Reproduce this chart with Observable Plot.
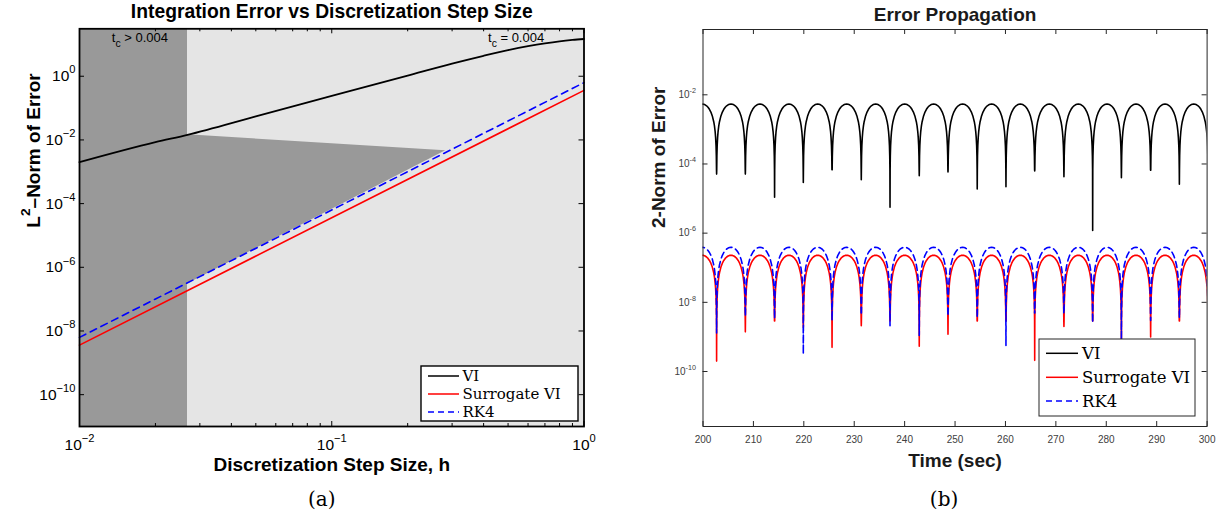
<!DOCTYPE html>
<html>
<head>
<meta charset="utf-8">
<script src="https://cdn.jsdelivr.net/npm/d3@7"></script>
<script src="https://cdn.jsdelivr.net/npm/@observablehq/plot@0.6"></script>
<style>
  body { margin: 0; background: #fff; }
  #wrap { position: relative; width: 1221px; height: 518px; overflow: hidden; background: #fff; }
  #left, #right { position: absolute; top: 0; }
  #left { left: 0; }
  #right { left: 610px; }
  .overlay { position: absolute; top: 0; pointer-events: none; }
</style>
</head>
<body>
<div id="wrap">
  <div id="left"></div>
  <div id="right"></div>
</div>
<script>
// ===================== DATA: panel (a) =====================
const titleA = "Integration Error vs Discretization Step Size";
const xLabelA = "Discretization Step Size, h";
const yLabelA = "L^{2}–Norm of Error";
const captionA = "(a)";
const stepH = [0.01, 0.02, 0.0268, 0.05, 0.1, 0.2, 0.3, 0.4, 0.5, 0.6, 0.7, 0.8, 0.9, 1.0];
const errVI = [0.002, 0.0085, 0.0145, 0.055, 0.24, 1.05, 2.5, 4.4, 6.6, 8.8, 10.8, 12.5, 13.8, 14.8];
const stepHSurrogate = [0.01, 1.0];
const errSurrogate = [3.6e-9, 0.36];
const stepHRK4 = [0.01, 1.0];
const errRK4 = [6.3e-9, 0.63];
const tcBoundaryH = 0.0268;           // edge of the dark "t_c > 0.004" band
const shadeH = [0.0268, 0.283];       // dark wedge
const shadeLow = [3.0e-7, 4.6e-3];
const shadeHigh = [0.0145, 4.6e-3];
const annotA = ["t_{c} > 0.004", "t_{c} = 0.004"];
const xTicksA = [0.01, 0.1, 1];
const xMinorA = [0.02, 0.03, 0.04, 0.05, 0.06, 0.07, 0.08, 0.09, 0.2, 0.3, 0.4, 0.5, 0.6, 0.7, 0.8, 0.9];
const yTicksA = [1, 1e-2, 1e-4, 1e-6, 1e-8, 1e-10];
const legendNames = ["VI", "Surrogate VI", "RK4"];

// ===================== DATA: panel (b) =====================
const titleB = "Error Propagation";
const xLabelB = "Time (sec)";
const yLabelB = "2-Norm of Error";
const captionB = "(b)";
// times of the zero crossings (dips), incl. one just outside each end of the axis
const dipTimes = [197.0, 202.7, 208.4, 214.2, 219.9, 225.6, 231.4, 237.1, 242.9, 248.6,
                  254.4, 260.1, 265.8, 271.6, 277.3, 283.0, 288.8, 294.5, 300.2];
const peakVI = 5.4e-3, peakSurrogate = 2.3e-7, peakRK4 = 3.9e-7;
const dipVI = [5e-5, 5.1e-5, 5.1e-5, 1.1e-5, 2.9e-5, 6.9e-5, 3.5e-5, 5.6e-6, 4.6e-5, 5.9e-5,
               1.9e-5, 2.2e-5, 6.3e-5, 4.3e-5, 1.2e-6, 4.0e-5, 6.6e-5, 2.6e-5, 5e-5];
const dipSurrogate = [3e-9, 2.0e-10, 1.4e-9, 3e-9, 1.9e-9, 5e-10, 2.1e-9, 4.7e-9, 5.4e-10, 1.2e-9,
                      3e-9, 3.6e-9, 2.1e-10, 2e-9, 3e-9, 3e-10, 1e-9, 3e-9, 3e-9];
const dipRK4 = [4e-9, 1.3e-9, 4e-9, 3.4e-9, 3.2e-10, 3e-9, 5.7e-9, 2.1e-9, 1.1e-9, 4e-9,
                3.6e-9, 5.6e-10, 5.7e-9, 4.7e-9, 2.6e-9, 8e-10, 3e-9, 3.5e-9, 4e-9];
// shape of one arch between two dips (fraction of the interval -> share of the peak)
const archFrac  = [0.004, 0.01, 0.02, 0.035, 0.05, 0.075, 0.1, 0.15, 0.2, 0.25, 0.3, 0.35, 0.4, 0.45, 0.5,
                   0.55, 0.6, 0.65, 0.7, 0.75, 0.8, 0.85, 0.9, 0.925, 0.95, 0.965, 0.98, 0.99, 0.996];
const archRatio = [0.0126, 0.0314, 0.0628, 0.109, 0.156, 0.233, 0.309, 0.454, 0.588, 0.707, 0.809, 0.891, 0.951, 0.988, 1,
                   0.988, 0.951, 0.891, 0.809, 0.707, 0.588, 0.454, 0.309, 0.233, 0.156, 0.109, 0.0628, 0.0314, 0.0126];
const xTicksB = [200, 210, 220, 230, 240, 250, 260, 270, 280, 290, 300];
const yTicksB = [1e-2, 1e-4, 1e-6, 1e-8, 1e-10];

// ===================== helpers =====================
const SVGNS = "http://www.w3.org/2000/svg";
function expLabel(v, minus) {
  const e = Math.round(Math.log10(v));
  return "10^{" + (e < 0 ? minus + Math.abs(e) : String(e)) + "}";
}
// turn ^{..} / _{..} markup into real superscript / subscript tspans
function richText(svg) {
  svg.querySelectorAll("text").forEach(t => {
    const s = t.textContent;
    if (!/[\^_]\{/.test(s)) return;
    const fs = parseFloat(getComputedStyle(t).fontSize) || 10;
    const parts = s.split(/(\^\{[^}]*\}|_\{[^}]*\})/).filter(p => p !== "");
    t.textContent = "";
    let offset = 0;
    parts.forEach(p => {
      const ts = document.createElementNS(SVGNS, "tspan");
      let target = 0, txt = p;
      if (p.startsWith("^{")) { target = -0.5 * fs; txt = p.slice(2, -1); ts.setAttribute("font-size", (0.72 * fs).toFixed(2)); }
      else if (p.startsWith("_{")) { target = 0.38 * fs; txt = p.slice(2, -1); ts.setAttribute("font-size", (0.8 * fs).toFixed(2)); }
      const d = target - offset;
      if (d !== 0) ts.setAttribute("dy", d.toFixed(2));
      offset = target;
      ts.textContent = txt;
      t.appendChild(ts);
    });
  });
}
function pts(xs, ys) { return xs.map((x, i) => ({x, y: ys[i]})); }
function oscillation(peak, minima) {
  const out = [];
  for (let k = 0; k < dipTimes.length; k++) {
    out.push({x: dipTimes[k], y: minima[k]});
    if (k + 1 < dipTimes.length) {
      const t0 = dipTimes[k], t1 = dipTimes[k + 1];
      archFrac.forEach((f, j) => out.push({x: t0 + f * (t1 - t0), y: peak * archRatio[j]}));
    }
  }
  return out;
}
// legend: one white box, line samples and labels
function legend(container, W, H, box, sampleX, textX, rowsY, fontSize, stroke, strokeWidth) {
  const lg = d3.select(container).append("svg").attr("class", "overlay")
    .attr("width", W).attr("height", H).style("left", "0px");
  lg.append("rect").attr("x", box.x).attr("y", box.y).attr("width", box.w).attr("height", box.h)
    .attr("fill", "white").attr("stroke", stroke).attr("stroke-width", strokeWidth);
  const styles = [{c: "black", d: null}, {c: "#ff0000", d: null}, {c: "#0000ff", d: "6,4"}];
  legendNames.forEach((n, i) => {
    lg.append("line").attr("x1", sampleX[0]).attr("x2", sampleX[1]).attr("y1", rowsY[i]).attr("y2", rowsY[i])
      .attr("stroke", styles[i].c).attr("stroke-width", 1.5).attr("stroke-dasharray", styles[i].d);
    lg.append("text").attr("font-family", "'DejaVu Serif', serif").attr("font-size", fontSize).attr("fill", "black")
      .attr("x", textX).attr("y", rowsY[i] + 0.36 * fontSize).text(n);
  });
}

// ===================== panel (a) =====================
{
  const W = 610, H = 518;
  const m = {top: 28.3, right: 26.5, bottom: 92, left: 79};
  const iw = W - m.left - m.right, ih = H - m.top - m.bottom;
  const yTop = 10 ** 1.49, yBot = 1e-11;
  const font = "'Liberation Sans', Arial, Helvetica, sans-serif";
  const plot = Plot.plot({
    width: W, height: H,
    marginTop: m.top, marginRight: m.right, marginBottom: m.bottom, marginLeft: m.left,
    style: {fontFamily: font, background: "transparent", color: "black", overflow: "visible"},
    x: {type: "log", domain: [0.01, 1], label: null},
    y: {type: "log", domain: [yBot, yTop], label: null},
    marks: [
      Plot.frame({fill: "#e5e5e5", stroke: null}),
      Plot.rect([{a: 0.01, b: tcBoundaryH}], {x1: "a", x2: "b", y1: () => yBot, y2: () => yTop, fill: "#999999"}),
      Plot.areaY(shadeH.map((h, i) => ({h, lo: shadeLow[i], hi: shadeHigh[i]})), {x: "h", y1: "lo", y2: "hi", fill: "#999999"}),
      Plot.line(pts(stepH, errVI), {x: "x", y: "y", stroke: "black", strokeWidth: 1.8, curve: "monotone-x"}),
      Plot.line(pts(stepHSurrogate, errSurrogate), {x: "x", y: "y", stroke: "#ff0000", strokeWidth: 1.6}),
      Plot.line(pts(stepHRK4, errRK4), {x: "x", y: "y", stroke: "#0000ff", strokeWidth: 1.6, strokeDasharray: "7,5"}),
      Plot.text([annotA[0]], {text: d => d, frameAnchor: "top-left", dx: 32.3, dy: 13.4, lineAnchor: "bottom", textAnchor: "start", fontSize: 13, fontFamily: font, fill: "black"}),
      Plot.text([annotA[1]], {text: d => d, frameAnchor: "top-left", dx: 408.5, dy: 13.4, lineAnchor: "bottom", textAnchor: "start", fontSize: 13, fontFamily: font, fill: "black"}),
      // inward ticks on all four sides
      Plot.tickX(xTicksA, {x: d => d, insetTop: ih - 5, stroke: "black"}),
      Plot.tickX(xTicksA, {x: d => d, insetBottom: ih - 5, stroke: "black"}),
      Plot.tickX(xMinorA, {x: d => d, insetTop: ih - 3, stroke: "black"}),
      Plot.tickX(xMinorA, {x: d => d, insetBottom: ih - 3, stroke: "black"}),
      Plot.tickY(yTicksA, {y: d => d, insetRight: iw - 5, stroke: "black"}),
      Plot.tickY(yTicksA, {y: d => d, insetLeft: iw - 5, stroke: "black"}),
      Plot.axisX({ticks: xTicksA, tickSize: 0, tickPadding: 12, fontSize: 15.5, label: null, tickFormat: v => expLabel(v, "−")}),
      Plot.axisY({ticks: yTicksA, tickSize: 0, tickPadding: 4, fontSize: 15.5, label: null, tickFormat: v => expLabel(v, "−")}),
      Plot.frame({stroke: "black", strokeWidth: 1.8}),
      Plot.text([titleA], {text: d => d, frameAnchor: "top", dy: -10.6, lineAnchor: "bottom", fontSize: 19.3, fontWeight: "bold"}),
      Plot.text([xLabelA], {text: d => d, frameAnchor: "bottom", dy: 44, lineAnchor: "bottom", fontSize: 19, fontWeight: "bold"}),
      Plot.text([yLabelA], {text: d => d, frameAnchor: "left", dx: -46, rotate: -90, lineAnchor: "middle", fontSize: 19, fontWeight: "bold"}),
      Plot.text([captionA], {text: d => d, frameAnchor: "bottom", dx: -10, dy: 79, lineAnchor: "bottom", fontSize: 20, fontFamily: "'DejaVu Serif', serif"})
    ]
  });
  document.getElementById("left").appendChild(plot);
  richText(plot);
  legend("#left", W, H, {x: 421, y: 366, w: 157, h: 55}, [428, 459], 462.5, [376, 394, 412], 15, "black", 1.4);
}

// ===================== panel (b) =====================
{
  const W = 611, H = 518;
  const m = {top: 29, right: 14.4, bottom: 92, left: 92.5};
  const iw = W - m.left - m.right, ih = H - m.top - m.bottom;
  const font = "'Liberation Sans', Arial, Helvetica, sans-serif";
  const axisCol = "#262626";
  const plot = Plot.plot({
    width: W, height: H,
    marginTop: m.top, marginRight: m.right, marginBottom: m.bottom, marginLeft: m.left,
    style: {fontFamily: font, background: "transparent", color: axisCol, overflow: "visible"},
    x: {domain: [200, 300], label: null},
    y: {type: "log", domain: [10 ** -11.59, 10 ** -0.112], label: null},
    marks: [
      Plot.line(oscillation(peakVI, dipVI), {x: "x", y: "y", stroke: "black", strokeWidth: 1.6, clip: true}),
      Plot.line(oscillation(peakSurrogate, dipSurrogate), {x: "x", y: "y", stroke: "#ff0000", strokeWidth: 1.6, clip: true}),
      Plot.line(oscillation(peakRK4, dipRK4), {x: "x", y: "y", stroke: "#0000ff", strokeWidth: 1.6, strokeDasharray: "6,4", clip: true}),
      Plot.tickX(xTicksB, {x: d => d, insetTop: ih - 5, stroke: axisCol}),
      Plot.tickX(xTicksB, {x: d => d, insetBottom: ih - 5, stroke: axisCol}),
      Plot.tickY(yTicksB, {y: d => d, insetRight: iw - 5, stroke: axisCol}),
      Plot.tickY(yTicksB, {y: d => d, insetLeft: iw - 5, stroke: axisCol}),
      Plot.axisX({ticks: xTicksB, tickSize: 0, tickPadding: 9, fontSize: 10, label: null, tickFormat: d => String(d), fill: "#404040"}),
      Plot.axisY({ticks: yTicksB, tickSize: 0, tickPadding: 7, fontSize: 10, label: null, tickFormat: v => expLabel(v, "-"), fill: "#404040"}),
      Plot.frame({stroke: axisCol, strokeWidth: 1}),
      Plot.text([titleB], {text: d => d, frameAnchor: "top", dy: -9, lineAnchor: "bottom", fontSize: 19, fontWeight: "bold", fill: "#1a1a1a"}),
      Plot.text([xLabelB], {text: d => d, frameAnchor: "bottom", dy: 40, lineAnchor: "bottom", fontSize: 19, fontWeight: "bold", fill: "#1a1a1a"}),
      Plot.text([yLabelB], {text: d => d, frameAnchor: "left", dx: -44, rotate: -90, lineAnchor: "middle", fontSize: 19, fontWeight: "bold", fill: "#1a1a1a"}),
      Plot.text([captionB], {text: d => d, frameAnchor: "bottom", dx: -11, dy: 79, lineAnchor: "bottom", fontSize: 20, fontFamily: "'DejaVu Serif', serif", fill: "black"})
    ]
  });
  document.getElementById("right").appendChild(plot);
  richText(plot);
  const ox = 610;
  legend("#right", W, H, {x: 1039 - ox, y: 339, w: 156, h: 77}, [1046 - ox, 1078 - ox], 1082 - ox, [353.3, 377.3, 401], 16.5, axisCol, 1);
}
</script>
</body>
</html>
